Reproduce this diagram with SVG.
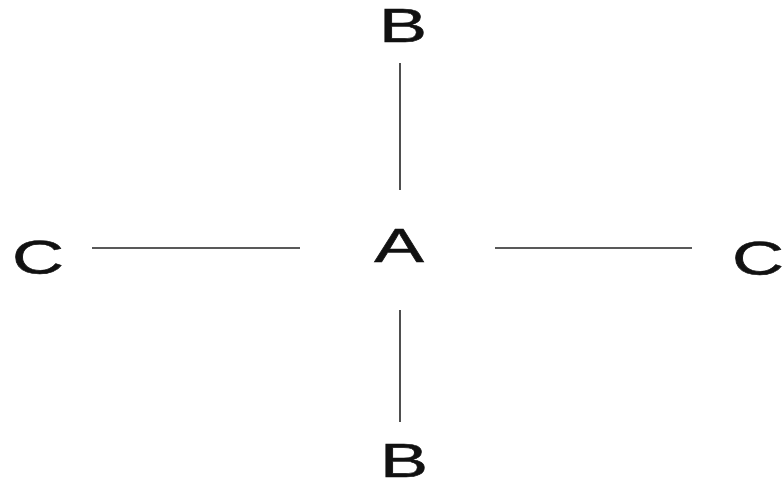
<svg xmlns="http://www.w3.org/2000/svg" width="784" height="482" viewBox="0 0 784 482">
<style>
.lbl{font-family:"Liberation Sans",Arial,sans-serif;font-size:48px;fill:#111;text-anchor:middle;stroke:#111;stroke-width:0.6}
.edge{stroke:#222;stroke-width:1.6;fill:none}
</style>
<rect width="784" height="482" fill="#fff"/>
<g id="connectors">
<line class="edge" x1="400" y1="63" x2="400" y2="190"/>
<line class="edge" x1="92" y1="248" x2="300" y2="248"/>
<line class="edge" x1="495" y1="248" x2="692" y2="248"/>
<line class="edge" x1="400" y1="310" x2="400" y2="422"/>
</g>
<g id="nodeA"><text class="lbl" transform="translate(399,262) scale(1.55,1)">A</text></g>
<g id="nodeB1"><text class="lbl" transform="translate(403,42) scale(1.5,1)">B</text></g>
<g id="nodeB2"><text class="lbl" transform="translate(404,477) scale(1.5,1)">B</text></g>
<g id="nodeC1"><text class="lbl" transform="translate(38,274) scale(1.5,1)">C</text></g>
<g id="nodeC2"><text class="lbl" transform="translate(758,275) scale(1.5,1)">C</text></g>
</svg>
